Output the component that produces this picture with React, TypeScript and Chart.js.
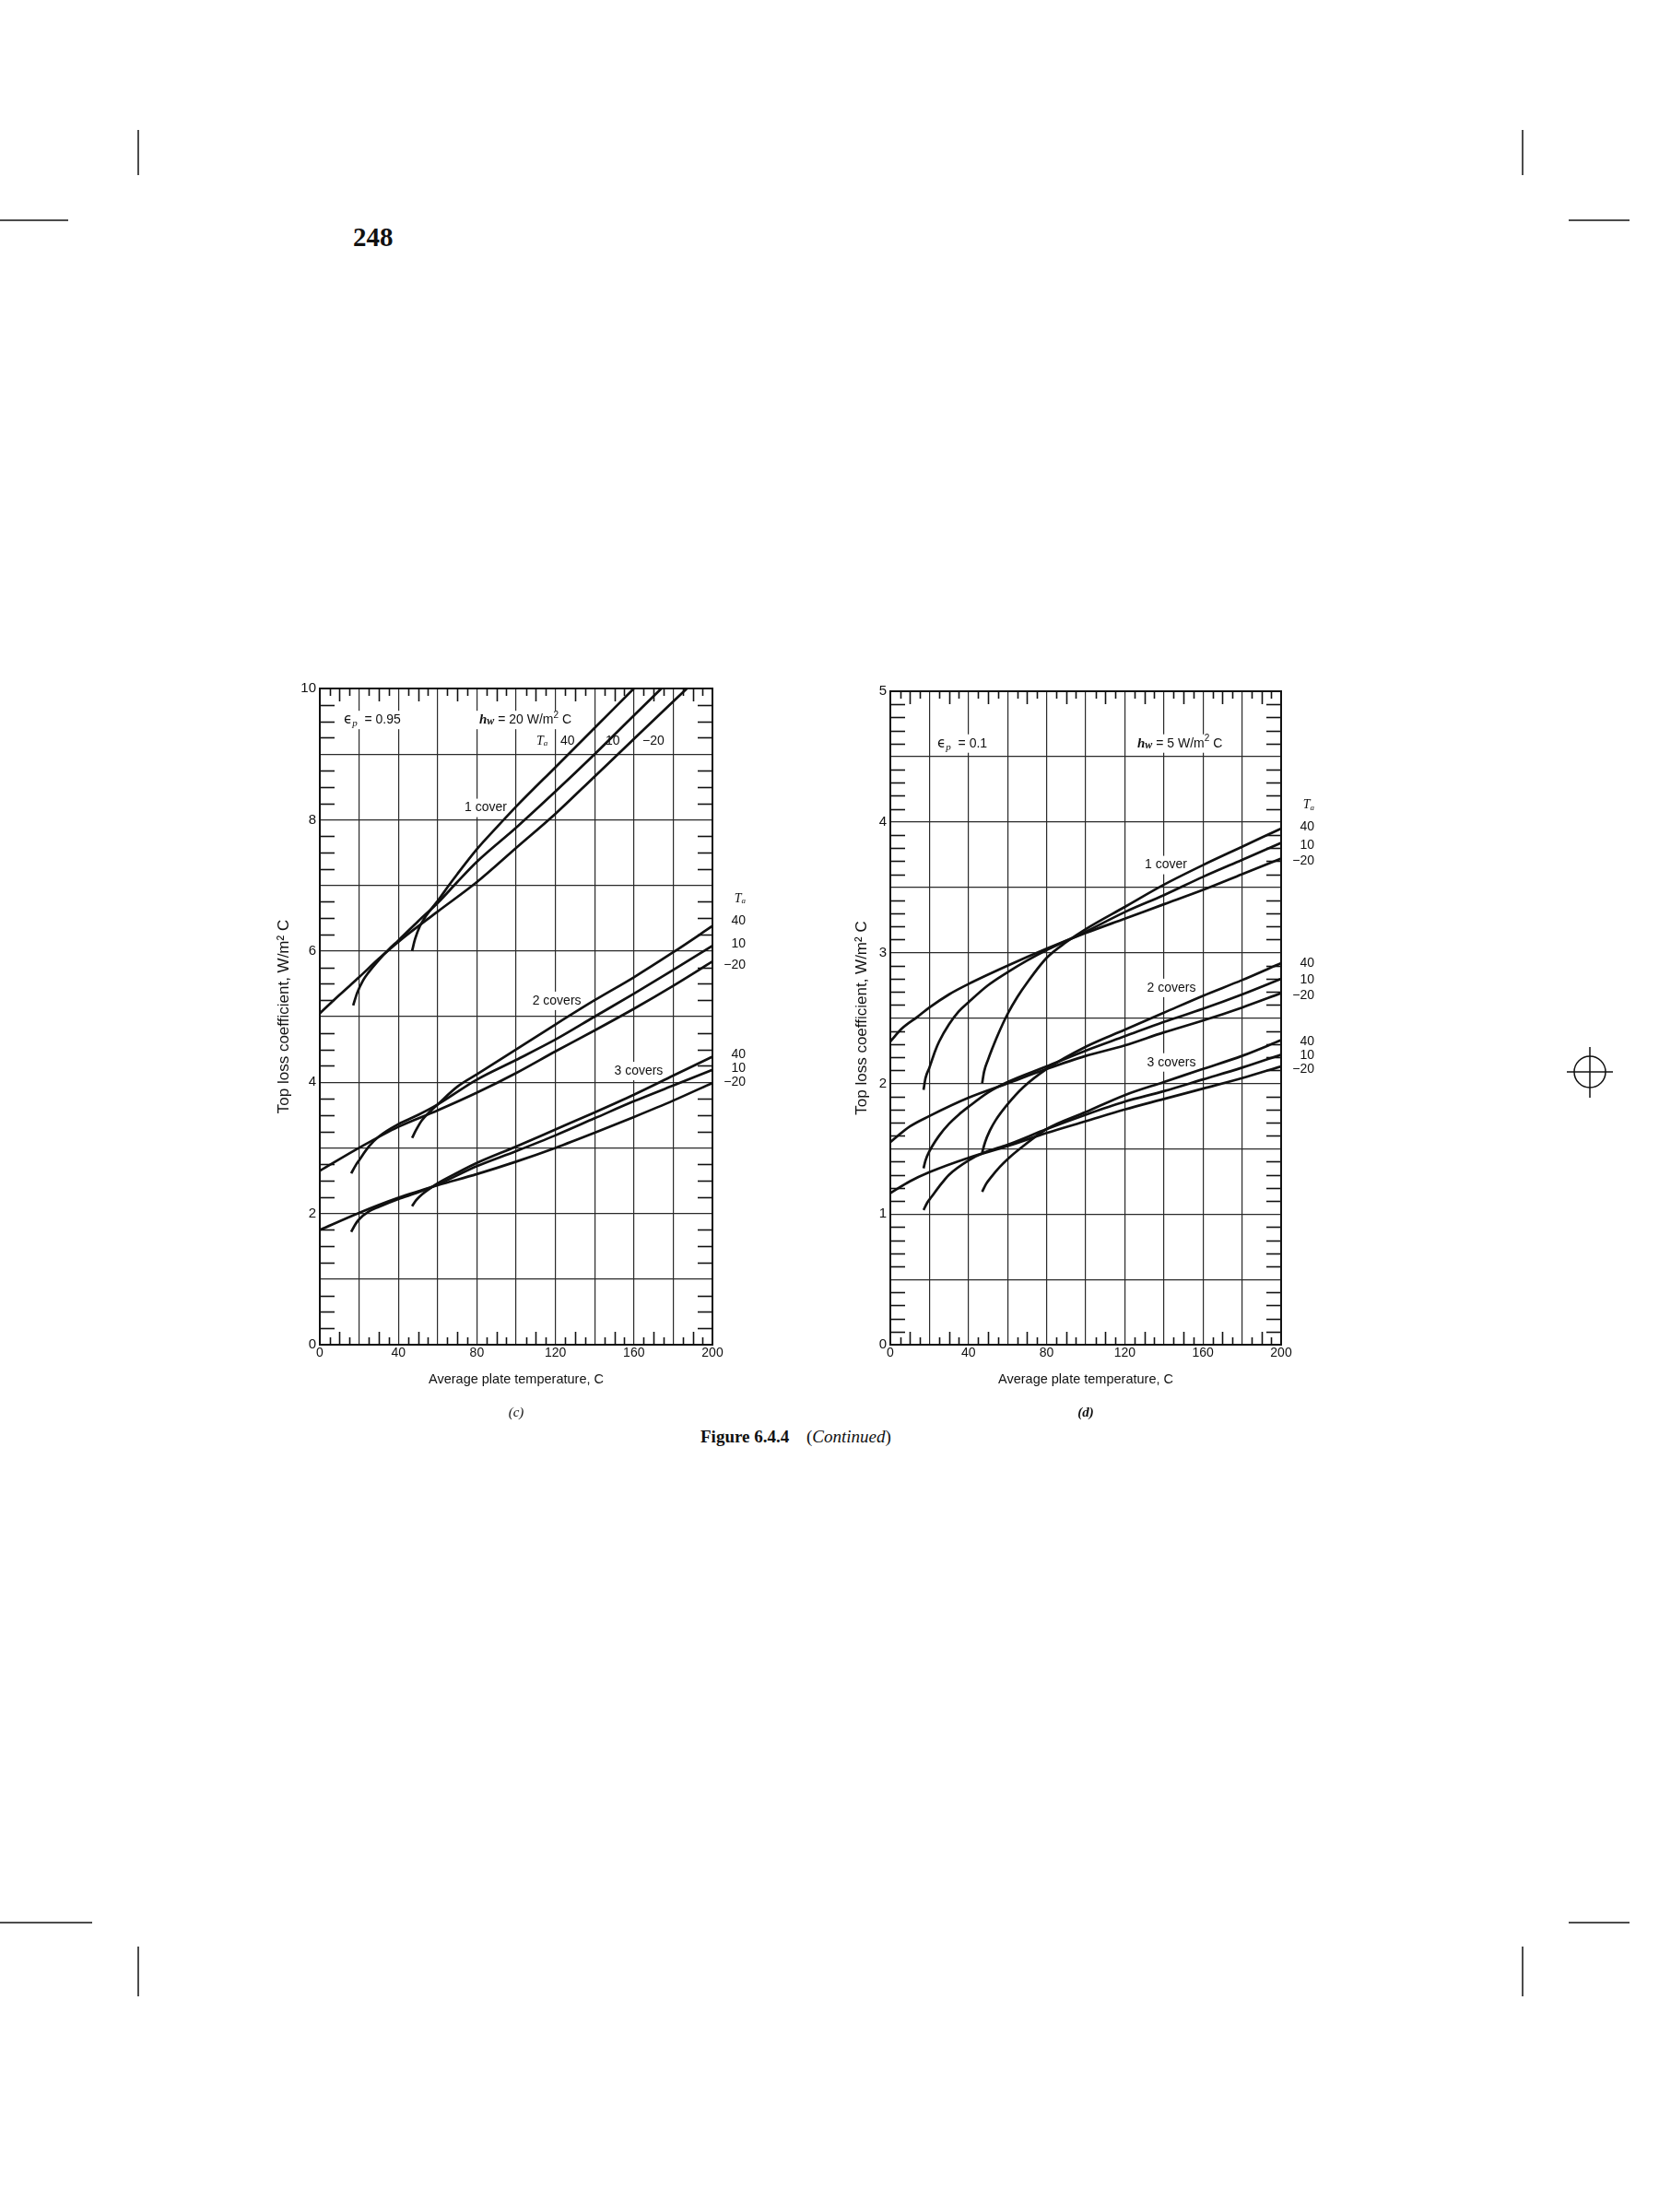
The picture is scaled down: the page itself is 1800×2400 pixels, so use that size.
import React, { useEffect, useRef } from 'react';
import { Chart, registerables } from 'chart.js';

Chart.register(...registerables);

type Pt = [number, number];

// ---------- Panel (c): εp = 0.95, hw = 20 W/m² C ----------
const c1Ta40: Pt[] = [[47, 6.0], [48.5, 6.18], [51, 6.38], [54, 6.53], [57, 6.65], [60, 6.76], [65, 6.97], [70, 7.17], [80, 7.55], [90, 7.88], [100, 8.2], [120, 8.8], [140, 9.4], [160, 10.0]];
const c1Ta10: Pt[] = [[17, 5.17], [19, 5.36], [22, 5.55], [25, 5.68], [30, 5.86], [35, 6.02], [40, 6.16], [50, 6.45], [60, 6.73], [70, 7.05], [80, 7.36], [100, 7.88], [120, 8.43], [140, 9.0], [160, 9.59], [174, 10.0]];
const c1TaM20: Pt[] = [[0, 5.05], [10, 5.33], [20, 5.6], [30, 5.88], [40, 6.14], [60, 6.6], [80, 7.05], [100, 7.57], [120, 8.09], [140, 8.66], [160, 9.23], [187, 10.0]];
const c2Ta40: Pt[] = [[47, 3.15], [49, 3.27], [52, 3.42], [56, 3.55], [60, 3.66], [70, 3.93], [80, 4.12], [100, 4.5], [120, 4.88], [140, 5.25], [160, 5.6], [180, 5.98], [200, 6.38]];
const c2Ta10: Pt[] = [[16, 2.61], [18, 2.72], [20, 2.81], [25, 3.02], [30, 3.17], [40, 3.36], [50, 3.5], [60, 3.66], [80, 4.04], [100, 4.34], [120, 4.65], [140, 5.0], [160, 5.35], [180, 5.71], [200, 6.08]];
const c2TaM20: Pt[] = [[0, 2.65], [20, 3.0], [40, 3.32], [60, 3.57], [80, 3.84], [100, 4.14], [120, 4.47], [140, 4.79], [160, 5.12], [180, 5.47], [200, 5.84]];
const c3Ta40: Pt[] = [[47, 2.11], [49, 2.2], [52, 2.29], [56, 2.38], [60, 2.46], [70, 2.62], [80, 2.77], [100, 3.02], [120, 3.28], [140, 3.54], [160, 3.81], [180, 4.1], [200, 4.39]];
const c3Ta10: Pt[] = [[16, 1.72], [18, 1.83], [20, 1.91], [25, 2.03], [30, 2.1], [40, 2.22], [50, 2.32], [60, 2.44], [80, 2.72], [100, 2.95], [120, 3.19], [140, 3.45], [160, 3.71], [180, 3.95], [200, 4.19]];
const c3TaM20: Pt[] = [[0, 1.75], [20, 2.01], [40, 2.24], [60, 2.43], [80, 2.6], [100, 2.79], [120, 3.0], [140, 3.23], [160, 3.47], [180, 3.72], [200, 3.99]];

// ---------- Panel (d): εp = 0.1, hw = 5 W/m² C ----------
const d1Ta40: Pt[] = [[47, 2.0], [48, 2.09], [50, 2.18], [52, 2.26], [55, 2.37], [60, 2.53], [65, 2.66], [70, 2.77], [80, 2.96], [90, 3.08], [100, 3.18], [120, 3.35], [140, 3.52], [160, 3.67], [180, 3.81], [200, 3.95]];
const d1Ta10: Pt[] = [[17, 1.95], [18, 2.04], [20, 2.12], [23, 2.25], [25, 2.32], [30, 2.45], [35, 2.55], [40, 2.62], [50, 2.75], [60, 2.85], [70, 2.94], [80, 3.02], [100, 3.16], [120, 3.31], [140, 3.44], [160, 3.58], [180, 3.71], [200, 3.84]];
const d1TaM20: Pt[] = [[0, 2.32], [6, 2.42], [14, 2.51], [20, 2.58], [30, 2.68], [40, 2.76], [60, 2.9], [80, 3.03], [100, 3.15], [120, 3.26], [140, 3.37], [160, 3.48], [180, 3.6], [200, 3.72]];
const d2Ta40: Pt[] = [[47, 1.47], [48.5, 1.55], [51, 1.64], [54, 1.72], [60, 1.84], [68, 1.97], [80, 2.11], [100, 2.28], [120, 2.41], [140, 2.54], [160, 2.67], [180, 2.79], [200, 2.92]];
const d2Ta10: Pt[] = [[17, 1.35], [18, 1.41], [20, 1.48], [25, 1.6], [30, 1.69], [35, 1.76], [40, 1.82], [50, 1.93], [60, 2.01], [80, 2.13], [100, 2.25], [120, 2.36], [140, 2.47], [160, 2.57], [180, 2.68], [200, 2.8]];
const d2TaM20: Pt[] = [[0, 1.55], [10, 1.67], [20, 1.75], [40, 1.89], [60, 2.0], [80, 2.11], [100, 2.21], [120, 2.29], [140, 2.39], [160, 2.48], [180, 2.58], [200, 2.69]];
const d3Ta40: Pt[] = [[47, 1.17], [49, 1.23], [52, 1.29], [56, 1.36], [60, 1.42], [68, 1.52], [80, 1.65], [100, 1.78], [120, 1.91], [140, 2.01], [160, 2.11], [180, 2.21], [200, 2.33]];
const d3Ta10: Pt[] = [[17, 1.03], [19, 1.09], [21, 1.13], [25, 1.21], [30, 1.3], [40, 1.41], [48, 1.47], [60, 1.53], [80, 1.65], [100, 1.76], [120, 1.86], [140, 1.94], [160, 2.03], [180, 2.12], [200, 2.22]];
const d3TaM20: Pt[] = [[0, 1.16], [10, 1.25], [20, 1.32], [40, 1.43], [60, 1.52], [80, 1.62], [100, 1.71], [120, 1.8], [140, 1.88], [160, 1.96], [180, 2.04], [200, 2.13]];

// ---------- tick labels ----------
const tempTickLabels = [0, 40, 80, 120, 160, 200];
const cYTickLabels = [0, 2, 4, 6, 8, 10];
const dYTickLabels = [0, 1, 2, 3, 4, 5];
const ambientTemps = ['40', '10', '\u221220'];

const SANS = '"Liberation Sans", Arial, sans-serif';
const SERIF = '"Liberation Serif", "Times New Roman", serif';
const s14 = `14px ${SANS}`;

type Run = { t: string; f: string; dy?: number };
type InLabel = { x: number; y: number; runs: Run[]; align: 'left' | 'center'; bg: boolean };
type SideLabel = { y: number; runs: Run[] };

const epsRuns = (val: string): Run[] => [
  { t: '\u03f5', f: `15px "DejaVu Sans", ${SANS}` },
  { t: 'p', f: `italic 11px ${SERIF}`, dy: 4 },
  { t: '  = ' + val, f: s14 },
];
const hwRuns = (val: string): Run[] => [
  { t: 'h', f: `bold italic 15px ${SERIF}` },
  { t: 'w', f: `bold italic 12px ${SERIF}`, dy: 2 },
  { t: ' = ' + val + ' W/m', f: s14 },
  { t: '2', f: `10px ${SANS}`, dy: -5 },
  { t: ' C', f: s14 },
];
const taRuns: Run[] = [
  { t: 'T', f: `italic 14px ${SERIF}` },
  { t: 'a', f: `italic 9px ${SERIF}`, dy: 3 },
];
const txt = (t: string): Run[] => [{ t, f: s14 }];

type Panel = {
  curves: Pt[][];
  yMax: number;
  yStep: number;
  yMinor: number;
  yLabels: number[];
  pad: { left: number; top: number; right: number; bottom: number };
  yAxisWidth: number;
  yTitlePad: number;
  inner: InLabel[];
  side: SideLabel[];
  caption: string;
  captionFont: string;
};

const panelC: Panel = {
  curves: [c1Ta40, c1Ta10, c1TaM20, c2Ta40, c2Ta10, c2TaM20, c3Ta40, c3Ta10, c3TaM20],
  yMax: 10,
  yStep: 1,
  yMinor: 0.25,
  yLabels: cYTickLabels,
  pad: { left: 0, top: 17, right: 57, bottom: 41 },
  yAxisWidth: 77,
  yTitlePad: 28,
  inner: [
    { x: 12.2, y: 9.52, runs: epsRuns('0.95'), align: 'left', bg: true },
    { x: 81.2, y: 9.52, runs: hwRuns('20'), align: 'left', bg: true },
    { x: 110.3, y: 9.2, runs: taRuns, align: 'left', bg: false },
    { x: 122.5, y: 9.2, runs: txt(ambientTemps[0]), align: 'left', bg: false },
    { x: 145.5, y: 9.2, runs: txt(ambientTemps[1]), align: 'left', bg: false },
    { x: 164.3, y: 9.2, runs: txt(ambientTemps[2]), align: 'left', bg: false },
    { x: 84.5, y: 8.18, runs: txt('1 cover'), align: 'center', bg: true },
    { x: 120.7, y: 5.24, runs: txt('2 covers'), align: 'center', bg: true },
    { x: 162.4, y: 4.17, runs: txt('3 covers'), align: 'center', bg: true },
  ],
  side: [
    { y: 6.8, runs: taRuns },
    { y: 6.46, runs: txt(ambientTemps[0]) },
    { y: 6.11, runs: txt(ambientTemps[1]) },
    { y: 5.79, runs: txt(ambientTemps[2]) },
    { y: 4.42, runs: txt(ambientTemps[0]) },
    { y: 4.21, runs: txt(ambientTemps[1]) },
    { y: 4.0, runs: txt(ambientTemps[2]) },
  ],
  caption: '(c)',
  captionFont: `italic 15px ${SERIF}`,
};

const panelD: Panel = {
  curves: [d1Ta40, d1Ta10, d1TaM20, d2Ta40, d2Ta10, d2TaM20, d3Ta40, d3Ta10, d3TaM20],
  yMax: 5,
  yStep: 0.5,
  yMinor: 0.1,
  yLabels: dYTickLabels,
  pad: { left: 0, top: 20, right: 60, bottom: 41 },
  yAxisWidth: 76,
  yTitlePad: 35,
  inner: [
    { x: 24.1, y: 4.6, runs: epsRuns('0.1'), align: 'left', bg: true },
    { x: 126.4, y: 4.6, runs: hwRuns('5'), align: 'left', bg: true },
    { x: 141, y: 3.67, runs: txt('1 cover'), align: 'center', bg: true },
    { x: 143.9, y: 2.73, runs: txt('2 covers'), align: 'center', bg: true },
    { x: 143.9, y: 2.16, runs: txt('3 covers'), align: 'center', bg: true },
  ],
  side: [
    { y: 4.13, runs: taRuns },
    { y: 3.96, runs: txt(ambientTemps[0]) },
    { y: 3.82, runs: txt(ambientTemps[1]) },
    { y: 3.7, runs: txt(ambientTemps[2]) },
    { y: 2.92, runs: txt(ambientTemps[0]) },
    { y: 2.79, runs: txt(ambientTemps[1]) },
    { y: 2.67, runs: txt(ambientTemps[2]) },
    { y: 2.32, runs: txt(ambientTemps[0]) },
    { y: 2.21, runs: txt(ambientTemps[1]) },
    { y: 2.11, runs: txt(ambientTemps[2]) },
  ],
  caption: '(d)',
  captionFont: `bold italic 15px ${SERIF}`,
};

function runsWidth(ctx: CanvasRenderingContext2D, runs: Run[]) {
  let w = 0;
  for (const r of runs) {
    ctx.font = r.f;
    w += ctx.measureText(r.t).width;
  }
  return w;
}
function drawRuns(ctx: CanvasRenderingContext2D, runs: Run[], x: number, y: number) {
  let cx = x;
  for (const r of runs) {
    ctx.font = r.f;
    ctx.fillText(r.t, cx, y + (r.dy || 0));
    cx += ctx.measureText(r.t).width;
  }
}

function makeConfig(p: Panel): any {
  const decor = {
    id: 'decor',
    beforeDatasetsDraw(chart: any) {
      const { ctx, chartArea: a, scales } = chart;
      const xs = scales.x;
      const ys = scales.y;
      ctx.save();
      ctx.strokeStyle = '#111';
      ctx.lineWidth = 1.6;
      const seg = (x1: number, y1: number, x2: number, y2: number) => {
        ctx.beginPath();
        ctx.moveTo(x1, y1);
        ctx.lineTo(x2, y2);
        ctx.stroke();
      };
      const n = Math.round(p.yMax / p.yMinor);
      const per = Math.round(p.yStep / p.yMinor);
      for (let i = 1; i < n; i++) {
        if (i % per === 0) continue;
        const py = Math.round(ys.getPixelForValue(i * p.yMinor)) + 0.5;
        seg(a.left, py, a.left + 16, py);
        seg(a.right - 16, py, a.right, py);
      }
      for (let v = 5; v < 200; v += 5) {
        if (v % 20 === 0) continue;
        const len = v % 10 === 0 ? 14 : 8;
        const px = Math.round(xs.getPixelForValue(v)) + 0.5;
        seg(px, a.top, px, a.top + len);
        seg(px, a.bottom, px, a.bottom - len);
      }
      ctx.fillStyle = '#111';
      ctx.textBaseline = 'middle';
      ctx.textAlign = 'left';
      for (const lab of p.inner) {
        const w = runsWidth(ctx, lab.runs);
        const px = xs.getPixelForValue(lab.x);
        const py = ys.getPixelForValue(lab.y);
        const x0 = lab.align === 'center' ? px - w / 2 : px;
        if (lab.bg) {
          ctx.fillStyle = '#fff';
          ctx.fillRect(x0 - 3, py - 10, w + 6, 20);
          ctx.fillStyle = '#111';
        }
        drawRuns(ctx, lab.runs, x0, py);
      }
      ctx.restore();
    },
    afterDatasetsDraw(chart: any) {
      const { ctx, chartArea: a, scales } = chart;
      const ys = scales.y;
      ctx.save();
      ctx.strokeStyle = '#111';
      ctx.lineWidth = 2;
      ctx.strokeRect(a.left, a.top, a.right - a.left, a.bottom - a.top);
      ctx.fillStyle = '#111';
      ctx.textBaseline = 'middle';
      ctx.textAlign = 'left';
      for (const s of p.side) {
        const w = runsWidth(ctx, s.runs);
        drawRuns(ctx, s.runs, a.right + 36 - w, ys.getPixelForValue(s.y));
      }
      ctx.textAlign = 'center';
      ctx.font = p.captionFont;
      ctx.fillText(p.caption, (a.left + a.right) / 2, a.bottom + 74);
      ctx.restore();
    },
  };

  return {
    type: 'line',
    data: {
      datasets: p.curves.map((c) => ({
        data: c.map(([x, y]) => ({ x, y })),
        borderColor: '#111',
        borderWidth: 2.7,
        pointRadius: 0,
        fill: false,
        cubicInterpolationMode: 'monotone',
      })),
    },
    options: {
      animation: false,
      responsive: false,
      maintainAspectRatio: false,
      devicePixelRatio: 1,
      events: [],
      layout: { padding: p.pad },
      plugins: { legend: { display: false }, tooltip: { enabled: false } },
      scales: {
        x: {
          type: 'linear',
          min: 0,
          max: 200,
          afterFit: (s: any) => {
            s.height = 60;
          },
          ticks: {
            stepSize: 20,
            autoSkip: false,
            maxRotation: 0,
            padding: 1,
            color: '#111',
            font: { family: SANS, size: 14 },
            callback: (v: any) => (tempTickLabels.includes(Number(v)) ? String(v) : ''),
          },
          grid: { color: '#2a2a2a', lineWidth: 1.2, drawTicks: false },
          border: { display: true, color: '#111', width: 2 },
          title: {
            display: true,
            text: 'Average plate temperature, C',
            color: '#111',
            font: { family: SANS, size: 14.5 },
            padding: { top: 0, bottom: 13.3 },
          },
        },
        y: {
          type: 'linear',
          min: 0,
          max: p.yMax,
          afterFit: (s: any) => {
            s.width = p.yAxisWidth;
          },
          ticks: {
            stepSize: p.yStep,
            autoSkip: false,
            padding: 4,
            color: '#111',
            font: { family: SANS, size: 15 },
            callback: (v: any) => (p.yLabels.includes(Number(v)) ? String(v) : ''),
          },
          grid: { color: '#2a2a2a', lineWidth: 1.2, drawTicks: false },
          border: { display: true, color: '#111', width: 2 },
          title: {
            display: true,
            text: 'Top loss coefficient, W/m\u00b2 C',
            color: '#111',
            font: { family: SANS, size: 17 },
            padding: { top: p.yTitlePad, bottom: 0 },
          },
        },
      },
    },
    plugins: [decor],
  };
}

export default function App() {
  const refC = useRef<HTMLCanvasElement>(null);
  const refD = useRef<HTMLCanvasElement>(null);

  useEffect(() => {
    const charts: Chart[] = [];
    if (refC.current) charts.push(new Chart(refC.current, makeConfig(panelC)));
    if (refD.current) charts.push(new Chart(refD.current, makeConfig(panelD)));
    return () => charts.forEach((c) => c.destroy());
  }, []);

  const mark = { stroke: '#111', strokeWidth: 1.5 };

  return (
    <div style={{ position: 'absolute', left: 0, top: 0, width: 1800, height: 2400, background: '#fff', overflow: 'hidden' }}>
      <svg width={1800} height={2400} style={{ position: 'absolute', left: 0, top: 0 }}>
        <line x1={150} y1={141} x2={150} y2={190} {...mark} />
        <line x1={1652} y1={141} x2={1652} y2={190} {...mark} />
        <line x1={0} y1={239} x2={74} y2={239} {...mark} />
        <line x1={1702} y1={239} x2={1768} y2={239} {...mark} />
        <line x1={0} y1={2086} x2={100} y2={2086} {...mark} />
        <line x1={1702} y1={2086} x2={1768} y2={2086} {...mark} />
        <line x1={150} y1={2112} x2={150} y2={2166} {...mark} />
        <line x1={1652} y1={2112} x2={1652} y2={2166} {...mark} />
        <circle cx={1725} cy={1163} r={17} fill="none" {...mark} />
        <line x1={1700} y1={1163} x2={1750} y2={1163} {...mark} />
        <line x1={1725} y1={1136} x2={1725} y2={1191} {...mark} />
        <text x={383} y={267} fontFamily={SERIF} fontWeight="bold" fontSize={29} fill="#111">248</text>
        <text x={760} y={1565} fontFamily={SERIF} fontSize={19} fill="#111">
          <tspan fontWeight="bold">Figure 6.4.4</tspan>
          <tspan x={875}>(</tspan>
          <tspan fontStyle="italic">Continued</tspan>
          <tspan>)</tspan>
        </text>
      </svg>
      <canvas ref={refC} width={560} height={830} style={{ position: 'absolute', left: 270, top: 730, width: 560, height: 830 }} />
      <canvas ref={refD} width={560} height={830} style={{ position: 'absolute', left: 890, top: 730, width: 560, height: 830 }} />
    </div>
  );
}
